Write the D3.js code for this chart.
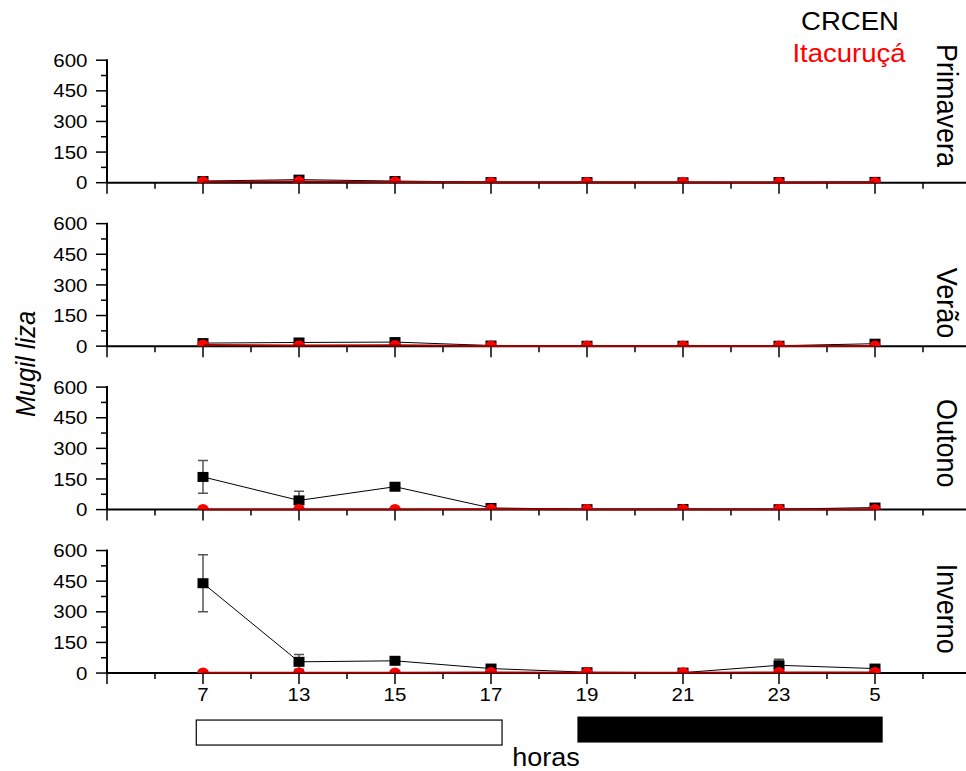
<!DOCTYPE html>
<html>
<head>
<meta charset="utf-8">
<script src="https://cdn.jsdelivr.net/npm/d3@7"></script>
<style>
  html, body { margin: 0; padding: 0; background: #fff; }
  svg { display: block; font-family: "Liberation Sans", Arial, sans-serif; }
</style>
</head>
<body>
<svg id="chart" width="966" height="771"></svg>
<script>
// hours sampled (x axis categories, index 1..8)
const horas = ['7', '13', '15', '17', '19', '21', '23', '5'];
const seasons = ['Primavera', 'Verão', 'Outono', 'Inverno'];
const yTicks = [0, 150, 300, 450, 600];

// CRCEN mean catch per season (black squares)
const crcenPrimavera = [8, 15, 8, 3, 3, 2, 3, 4];
const crcenVerao     = [15, 18, 20, 3, 2, 2, 2, 12];
const crcenOutono    = [160, 45, 112, 8, 2, 3, 2, 10];
const crcenInverno   = [440, 55, 60, 22, 4, 2, 38, 22];
// CRCEN standard errors
const crcenErrPrimavera = [4, 6, 4, 2, 2, 1, 2, 2];
const crcenErrVerao     = [6, 6, 5, 2, 1, 1, 1, 5];
const crcenErrOutono    = [80, 45, 8, 4, 1, 1, 1, 5];
const crcenErrInverno   = [140, 36, 8, 6, 2, 2, 30, 6];

// Itacuruçá mean catch per season (red circles)
const itaPrimavera = [5, 6, 4, 2, 2, 2, 1, 2];
const itaVerao     = [6, 3, 4, 1, 1, 1, 1, 1];
const itaOutono    = [1, 1, 1, 2, 1, 1, 1, 1];
const itaInverno   = [1, 1, 1, 3, 2, 2, 3, 3];

const crcen = [crcenPrimavera, crcenVerao, crcenOutono, crcenInverno];
const crcenErr = [crcenErrPrimavera, crcenErrVerao, crcenErrOutono, crcenErrInverno];
const ita = [itaPrimavera, itaVerao, itaOutono, itaInverno];

// light / dark periods, in x-index units
const dia = [0.93, 4.115];
const noite = [4.9, 8.08];

const svg = d3.select('#chart');
const SX = 1.08; // the original text is slightly wider than tall

const x = d3.scaleLinear().domain([0, 9]).range([107, 971]);
const panelTop = 60.2, panelH = 122.5, panelStep = 163.45;
// rotated season label centre offsets from panel middle
const labelShift = [-16, 18, -5, -3];

seasons.forEach((season, p) => {
    const top = panelTop + p * panelStep;
    const y = d3.scaleLinear().domain([0, 600]).range([top + panelH, top]);
    const y0 = y(0);
    const g = svg.append('g');

    // y axis
    g.append('line')
        .attr('x1', x(0)).attr('x2', x(0))
        .attr('y1', y(600) - 1).attr('y2', y0)
        .attr('stroke', '#000').attr('stroke-width', 2);
    d3.range(0, 601, 75).forEach(v => {
        const major = v % 150 === 0;
        g.append('line')
            .attr('x1', x(0) - (major ? 11 : 6)).attr('x2', x(0))
            .attr('y1', y(v)).attr('y2', y(v))
            .attr('stroke', '#000').attr('stroke-width', 1.5);
    });
    yTicks.forEach(v => {
        g.append('text')
            .attr('transform', `translate(87.5,${y(v)}) scale(${SX},1)`)
            .attr('dy', '0.35em')
            .attr('text-anchor', 'end')
            .style('font-size', '19px')
            .text(v);
    });

    // x axis
    g.append('line')
        .attr('x1', x(0)).attr('x2', 966)
        .attr('y1', y0).attr('y2', y0)
        .attr('stroke', '#000').attr('stroke-width', 2);
    d3.range(0, 9.01, 0.5).forEach(i => {
        const major = Number.isInteger(i);
        g.append('line')
            .attr('x1', x(i)).attr('x2', x(i))
            .attr('y1', y0).attr('y2', y0 + (major ? 11 : 6))
            .attr('stroke', '#000').attr('stroke-width', 1.5);
    });
    if (p === seasons.length - 1) {
        horas.forEach((h, i) => {
            g.append('text')
                .attr('transform', `translate(${x(i + 1)},${y0 + 27.5}) scale(${SX},1)`)
                .attr('text-anchor', 'middle')
                .style('font-size', '19px')
                .text(h);
        });
    }

    // season label
    g.append('text')
        .attr('transform', `translate(937,${top + panelH / 2 + labelShift[p]}) scale(${SX},1) rotate(90)`)
        .attr('text-anchor', 'middle')
        .style('font-size', '27px')
        .text(season);

    // clip marks at the zero line
    const clipId = 'clip' + p;
    svg.append('clipPath').attr('id', clipId)
        .append('rect')
        .attr('x', x(0)).attr('y', top - 40)
        .attr('width', 870).attr('height', y0 - top + 40);

    const data = g.append('g').attr('clip-path', `url(#${clipId})`);
    const line = d3.line().x((d, i) => x(i + 1)).y(d => y(d));

    // CRCEN
    data.append('path')
        .datum(crcen[p])
        .attr('d', line)
        .attr('fill', 'none')
        .attr('stroke', '#000')
        .attr('stroke-width', 1);
    crcen[p].forEach((v, i) => {
        const e = crcenErr[p][i];
        const cx = x(i + 1);
        data.append('line')
            .attr('x1', cx).attr('x2', cx)
            .attr('y1', y(v + e)).attr('y2', y(Math.max(0, v - e)))
            .attr('stroke', '#555').attr('stroke-width', 1.5);
        [v + e, v - e].forEach(c => {
            if (c < 0) return;
            data.append('line')
                .attr('x1', cx - 5).attr('x2', cx + 5)
                .attr('y1', y(c)).attr('y2', y(c))
                .attr('stroke', '#555').attr('stroke-width', 1.5);
        });
    });
    data.selectAll('rect.sq')
        .data(crcen[p])
        .join('rect')
        .attr('class', 'sq')
        .attr('x', (d, i) => x(i + 1) - 5.5)
        .attr('y', d => y(d) - 5)
        .attr('width', 11).attr('height', 10)
        .attr('fill', '#000');

    // Itacuruçá
    g.append('path')
        .datum(ita[p])
        .attr('d', line)
        .attr('fill', 'none')
        .attr('stroke', '#a00000')
        .attr('stroke-width', 2);
    data.selectAll('ellipse.ci')
        .data(ita[p])
        .join('ellipse')
        .attr('class', 'ci')
        .attr('cx', (d, i) => x(i + 1))
        .attr('cy', d => y(d))
        .attr('rx', 5.8).attr('ry', 5.4)
        .attr('fill', '#ff0000');
});

// day / night bars
const barY = panelTop + 3 * panelStep + panelH;
svg.append('rect')
    .attr('x', x(dia[0])).attr('y', barY + 47)
    .attr('width', x(dia[1]) - x(dia[0])).attr('height', 25)
    .attr('fill', '#fff').attr('stroke', '#000').attr('stroke-width', 1.2);
svg.append('rect')
    .attr('x', x(noite[0])).attr('y', barY + 43.5)
    .attr('width', x(noite[1]) - x(noite[0])).attr('height', 26)
    .attr('fill', '#000');

// axis titles
svg.append('text')
    .attr('transform', `translate(546,766) scale(${SX},1)`)
    .attr('text-anchor', 'middle')
    .style('font-size', '25px')
    .text('horas');
svg.append('text')
    .attr('transform', `translate(35,364) scale(${SX},1) rotate(-90)`)
    .attr('text-anchor', 'middle')
    .style('font-size', '25.5px')
    .style('font-style', 'italic')
    .text('Mugil liza');

// legend
svg.append('text')
    .attr('transform', `translate(850,30) scale(${SX},1)`)
    .attr('text-anchor', 'middle')
    .style('font-size', '25.5px')
    .attr('fill', '#000')
    .text('CRCEN');
svg.append('text')
    .attr('transform', `translate(849,62) scale(${SX},1)`)
    .attr('text-anchor', 'middle')
    .style('font-size', '25.5px')
    .attr('fill', '#ff0000')
    .text('Itacuruçá');
</script>
</body>
</html>
